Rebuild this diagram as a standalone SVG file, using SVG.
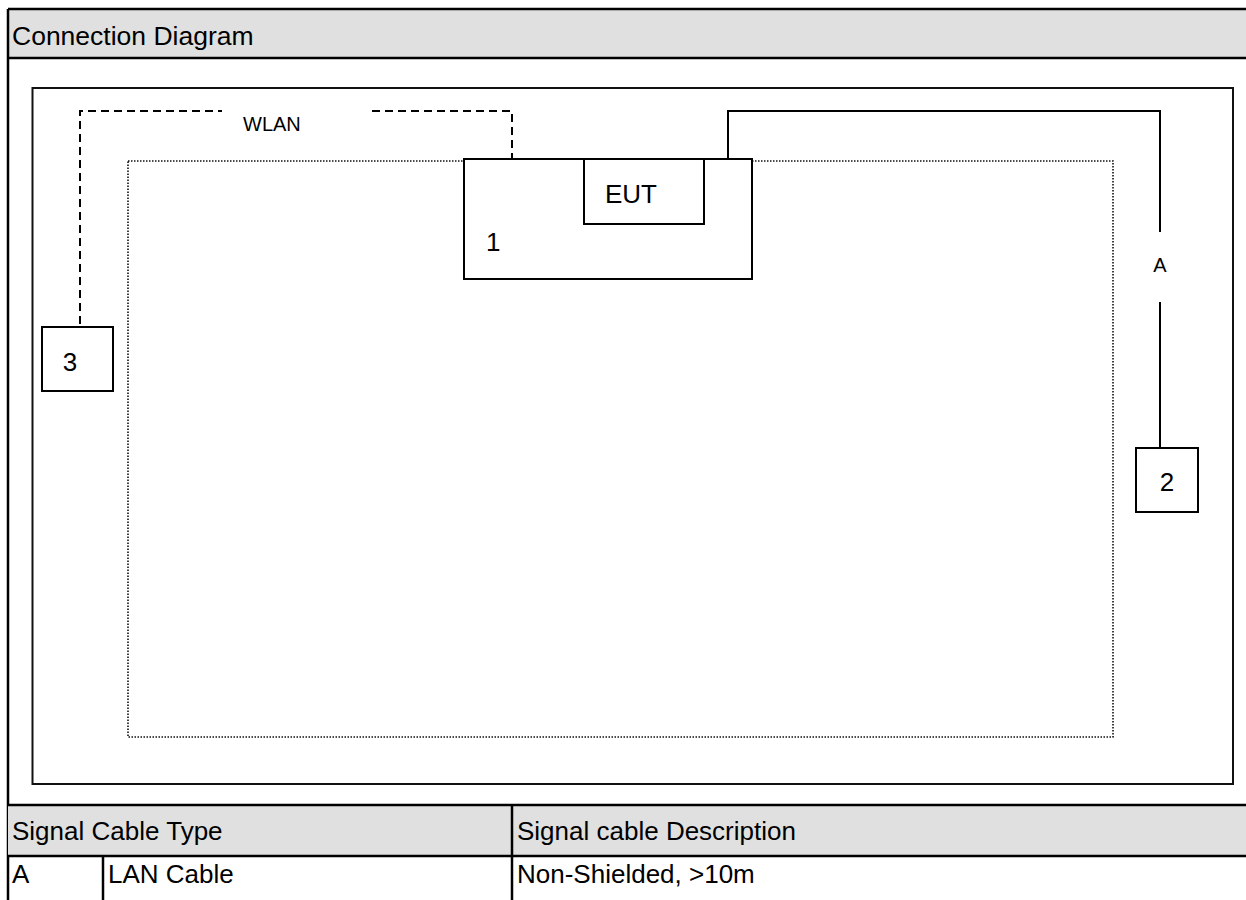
<svg xmlns="http://www.w3.org/2000/svg" width="1246" height="900" viewBox="0 0 1246 900">
  <style>
    text { font-family: "Liberation Sans", Arial, sans-serif; fill: #000; }
    .big { font-size: 26px; }
    .head { font-size: 26.5px; }
    .small { font-size: 20px; }
    .box { fill: #fff; stroke: #000; stroke-width: 2; }
    .frame { fill: none; stroke: #111; stroke-width: 2; }
    .band { fill: #e0e0e0; }
    .rule { stroke: #000; stroke-width: 2.5; fill: none; }
    .dash { fill: none; stroke: #000; stroke-width: 2; stroke-dasharray: 8 5; }
    .solid { fill: none; stroke: #000; stroke-width: 2; }
    .dotted { fill: none; stroke: #111; stroke-width: 1.6; stroke-dasharray: 1.5 1.5; }
  </style>

  <!-- page background -->
  <rect x="0" y="0" width="1246" height="900" fill="#fff"/>

  <!-- header band -->
  <rect class="band" x="8" y="9" width="1240" height="49"/>
  <text class="head" x="12" y="45">Connection Diagram</text>

  <!-- outer frame lines -->
  <line class="rule" x1="8" y1="9" x2="1246" y2="9"/>
  <line class="rule" x1="8" y1="58" x2="1246" y2="58"/>
  <line class="rule" x1="8" y1="9" x2="8" y2="900"/>

  <!-- inner frame -->
  <rect class="frame" x="32.5" y="88" width="1200.5" height="696"/>

  <!-- dotted test area -->
  <rect class="dotted" x="128" y="161" width="985" height="576"/>

  <!-- connectors -->
  <g id="connectors">
    <polyline class="dash" points="80,324 80,111 222,111"/>
    <polyline class="dash" points="372,111 512,111 512,159"/>
    <text class="small" x="243" y="131">WLAN</text>
    <polyline class="solid" points="728,159 728,111 1160,111 1160,232"/>
    <line class="solid" x1="1160" y1="302" x2="1160" y2="448"/>
    <text class="small" x="1160" y="272" text-anchor="middle">A</text>
  </g>

  <!-- node 1 -->
  <g id="node1">
    <rect class="box" x="464" y="159" width="288" height="120"/>
    <text class="big" x="486" y="251">1</text>
  </g>

  <!-- EUT -->
  <g id="eut">
    <rect class="box" x="584" y="159" width="120" height="65"/>
    <text class="big" x="605" y="203">EUT</text>
  </g>

  <!-- node 2 -->
  <g id="node2">
    <rect class="box" x="1136" y="448" width="62" height="64"/>
    <text class="big" x="1167" y="491" text-anchor="middle">2</text>
  </g>

  <!-- node 3 -->
  <g id="node3">
    <rect class="box" x="42" y="327" width="71" height="64"/>
    <text class="big" x="70" y="371" text-anchor="middle">3</text>
  </g>

  <!-- table -->
  <rect class="band" x="8" y="805" width="1240" height="51"/>
  <line class="rule" x1="8" y1="805" x2="1246" y2="805"/>
  <line class="rule" x1="8" y1="856" x2="1246" y2="856"/>
  <line class="rule" x1="512" y1="805" x2="512" y2="900"/>
  <line class="rule" x1="103" y1="856" x2="103" y2="900"/>
  <text class="big" x="12" y="840">Signal Cable Type</text>
  <text class="big" x="517" y="840">Signal cable Description</text>
  <text class="big" x="12" y="883">A</text>
  <text class="big" x="108" y="883">LAN Cable</text>
  <text class="big" x="517" y="883">Non-Shielded, &gt;10m</text>
</svg>
